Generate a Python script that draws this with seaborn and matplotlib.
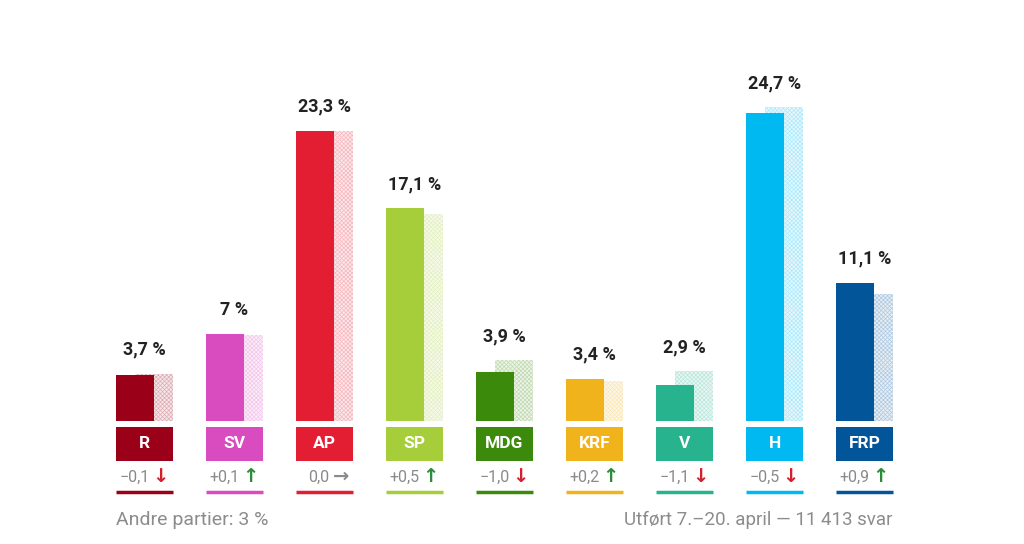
import matplotlib
matplotlib.use("Agg")
import matplotlib.pyplot as plt
import pandas as pd
import seaborn as sns
from matplotlib.colors import to_rgb
from matplotlib.patches import Rectangle

# Data
parties = ["R", "SV", "AP", "SP", "MDG", "KRF", "V", "H", "FRP"]
current = [3.7, 7.0, 23.3, 17.1, 3.9, 3.4, 2.9, 24.7, 11.1]
previous = [3.8, 6.9, 23.3, 16.6, 4.9, 3.2, 4.0, 25.2, 10.2]
changes = [-0.1, 0.1, 0.0, 0.5, -1.0, 0.2, -1.1, -0.5, 0.9]
colors = ["#9a0018", "#d84cbf", "#e31d32", "#a6cd3a", "#3c8a0b",
          "#f0b31b", "#27b38d", "#00b9f0", "#03559a"]
others_text = "Andre partier: 3 %"
footnote = "Utført 7.–20. april — 11 413 svar"

# Layout (pixel based: 90 px per party, 12.45 px per percent)
PX = 1 / 90
PY = 1 / 12.45
BAR_W = 38 * PX
OFFSET = 9.5 * PX
BOX_W = 57 * PX

sns.set_theme(style="white")
plt.rcParams["font.family"] = ["Roboto", "DejaVu Sans"]
plt.rcParams["hatch.linewidth"] = 0.5


def tint(c, amount):
    r, g, b = to_rgb(c)
    return (r + (1 - r) * amount, g + (1 - g) * amount, b + (1 - b) * amount)


def fmt(v):
    return f"{v:g}".replace(".", ",")


def main():
    fig = plt.figure(figsize=(10.24, 5.44), dpi=100)
    ax = fig.add_axes([0, 0, 1, 1])

    df_prev = pd.DataFrame({"parti": parties, "oppslutning": previous})
    df_cur = pd.DataFrame({"parti": parties, "oppslutning": current})

    # previous poll, hatched and pale, behind
    sns.barplot(data=df_prev, x="parti", y="oppslutning", hue="parti",
                palette=colors, width=BAR_W, saturation=1, legend=False,
                errorbar=None, hatch="xxxxxxxx", linewidth=0, ax=ax)
    n = len(ax.patches)
    for p, c in zip(ax.patches[:n], colors):
        p.set_facecolor(tint(c, 0.9))
        p.set_edgecolor(tint(c, 0.68))
        p.set_x(p.get_x() + OFFSET)

    # current poll
    sns.barplot(data=df_cur, x="parti", y="oppslutning", hue="parti",
                palette=colors, width=BAR_W, saturation=1, legend=False,
                errorbar=None, linewidth=0, ax=ax)
    for p in ax.patches[n:]:
        p.set_x(p.get_x() - OFFSET)

    for i, (party, cur, prev, ch, c) in enumerate(
            zip(parties, current, previous, changes, colors)):
        top = max(cur, prev)
        ax.text(i, top + 24 * PY, fmt(cur) + " %", ha="center", va="center",
                fontsize=13, fontweight="bold", color="#222222")
        ax.add_patch(Rectangle((i - BOX_W / 2, -40 * PY), BOX_W, 34 * PY,
                               color=c, lw=0))
        ax.text(i, -23 * PY, party, ha="center", va="center", fontsize=12.5,
                fontweight="bold", color="white")
        num = f"{abs(ch):.1f}".replace(".", ",")
        if ch > 0:
            label, arrow, acol = "+" + num, "↑", "#2e8b3a"
        elif ch < 0:
            label, arrow, acol = "−" + num, "↓", "#d4202c"
        else:
            label, arrow, acol = num, "→", "#8a8a8a"
        ax.text(i + 5 * PX, -56 * PY, label, ha="right", va="center",
                fontsize=11.5, color="#8a8a8a")
        ax.text(i + 8 * PX, -55 * PY, arrow, ha="left", va="center",
                fontsize=14, fontweight="bold", color=acol,
                family=["DejaVu Sans"])
        ax.plot([i - BOX_W / 2, i + BOX_W / 2], [-71 * PY, -71 * PY],
                color=c, lw=2.5, solid_capstyle="butt")

    ax.text(-BOX_W / 2, -99 * PY, others_text, ha="left", va="center",
            fontsize=14, color="#8c8c8c")
    ax.text(len(parties) - 1 + BOX_W / 2, -99 * PY, footnote, ha="right",
            va="center", fontsize=13.5, color="#8c8c8c")

    ax.set_xlim(-144.5 * PX, (1024 - 144.5) * PX)
    ax.set_ylim(-123 * PY, (544 - 123) * PY)
    ax.axis("off")

    fig.savefig("out.png", dpi=100, facecolor="white")


if __name__ == "__main__":
    main()
